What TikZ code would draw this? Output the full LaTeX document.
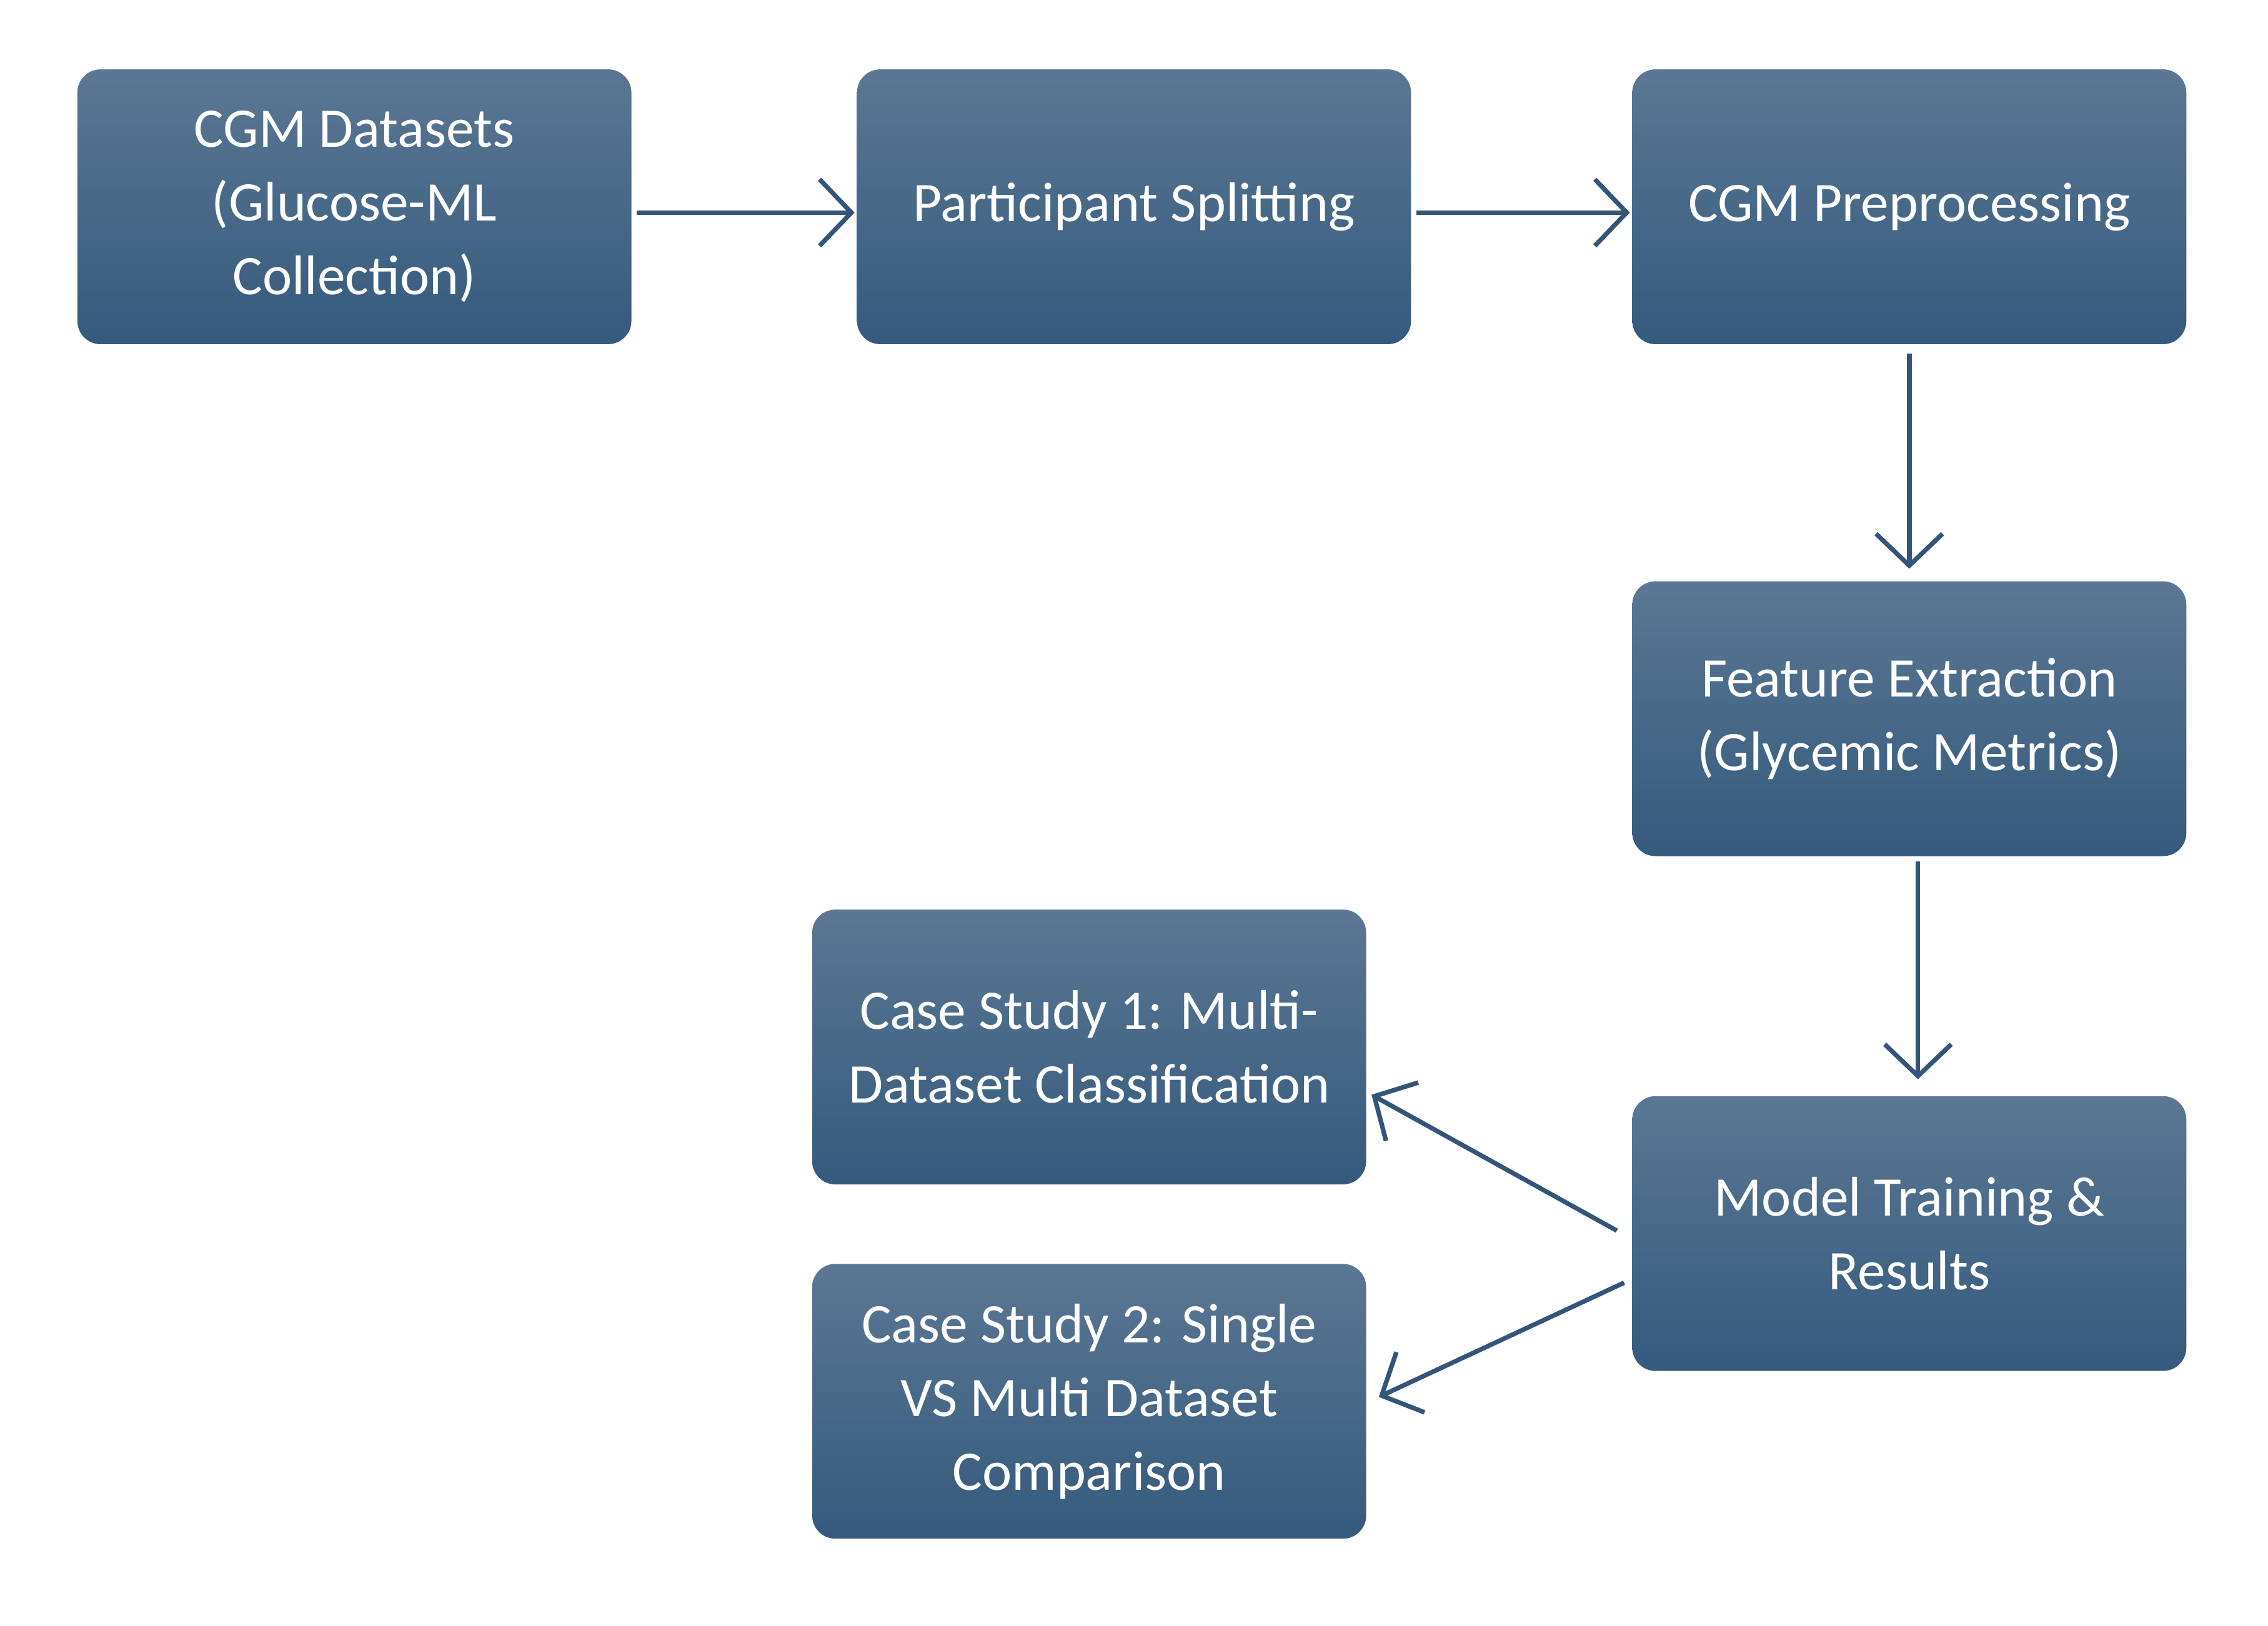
\documentclass[tikz,border=0pt]{standalone}
\usepackage{fontspec}
\setmainfont{Carlito}
\usetikzlibrary{arrows.meta}
\definecolor{boxtop}{HTML}{5B7793}
\definecolor{boxbot}{HTML}{355A7D}
\definecolor{flowline}{HTML}{34557A}
\newcommand{\stepbox}[3]{\node[stepnode] at (#1) (#2) {#3}}

\begin{document}
\begin{tikzpicture}[
	stepnode/.style={rectangle,rounded corners=1.6mm,top color=boxtop,bottom color=boxbot,draw=none,
		minimum width=3.83cm,minimum height=1.9cm,text=white,align=center,font=\fontsize{11}{14.5}\selectfont},
	flow/.style={draw=flowline,line width=0.9pt,-{Straight Barb[open,length=2.2mm,width=4.6mm,line width=0.9pt]}}
	]
				\useasboundingbox (0,0) rectangle (15.68,-11.24);
				
				\stepbox{2.45,-1.43}{datasets}{CGM Datasets\\(Glucose-ML\\Collection)};
				\stepbox{7.84,-1.43}{split}{Participant Splitting};
				\stepbox{13.20,-1.43}{prep}{CGM Preprocessing};
				\stepbox{13.20,-4.97}{feat}{Feature Extraction\\(Glycemic Metrics)};
				\stepbox{13.20,-8.53}{model}{Model Training \&\\Results};
				\stepbox{7.53,-7.24}{case1}{Case Study 1: Multi-\\Dataset Classification};
				\stepbox{7.53,-9.69}{case2}{Case Study 2: Single\\VS Multi Dataset\\Comparison};
				
				\draw[flow] ([xshift=0.3mm,yshift=-0.4mm]datasets.east) -- ([xshift=-0.1mm,yshift=-0.4mm]split.west);
				\draw[flow] ([xshift=0.3mm,yshift=-0.4mm]split.east) -- ([xshift=-0.1mm,yshift=-0.4mm]prep.west);
				\draw[flow] ([yshift=-0.6mm]prep.south) -- ([yshift=0.8mm]feat.north);
				\draw[flow] ([xshift=0.6mm,yshift=-0.3mm]feat.south) -- ([xshift=0.6mm,yshift=1.1mm]model.north);
				\draw[flow] ([xshift=-1.0mm,yshift=0.2mm]model.west) -- ([xshift=0.3mm,yshift=-3.3mm]case1.east);
				\draw[flow] ([xshift=-0.5mm,yshift=-3.4mm]model.west) -- ([xshift=0.8mm,yshift=0.3mm]case2.east);
				
\end{tikzpicture}
\end{document}
